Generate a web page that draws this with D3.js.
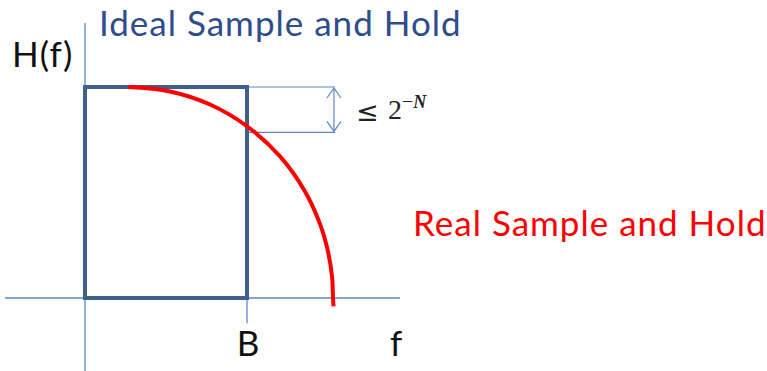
<!DOCTYPE html>
<html>
<head>
<meta charset="utf-8">
<script src="https://cdn.jsdelivr.net/npm/d3@7"></script>
<style>
  html, body { margin: 0; padding: 0; background: #fff; }
  svg { display: block; }
</style>
</head>
<body>
<svg id="chart" width="767" height="371"></svg>
<script>
// ideal brick-wall response: flat 1 up to B, then nothing
const idealF = [0, 0, 1, 1]
const idealH = [0, 1, 1, 0]

// real sample-and-hold response (f in units of B)
const realF = [0.265, 0.525, 0.772, 1.0, 1.204, 1.358, 1.451, 1.5, 1.525, 1.531, 1.534]
const realH = [1.0, 0.979, 0.917, 0.814, 0.671, 0.505, 0.35, 0.22, 0.1, 0.0, -0.04]

// droop bracket: from the top of the box down to where the curve leaves it
const droopTop = 1.0
const droopBottom = 0.785
const droopF = [1.0, 1.543]

const fExtent = [-0.494, 1.944]
const hExtent = [-0.346, 1.303]
const tickLabels = ['B', 'f']

const svg = d3.select('#chart')

const x = d3.scaleLinear().domain([0, 1]).range([85, 247])
const y = d3.scaleLinear().domain([0, 1]).range([298, 87])

const axisColor = '#5B87C5'
const boxColor = '#3F5F8C'

// axes
svg.append('line')
  .attr('x1', x(fExtent[0])).attr('x2', x(fExtent[1]))
  .attr('y1', y(0)).attr('y2', y(0))
  .attr('stroke', axisColor).attr('stroke-width', 1.3)

svg.append('line')
  .attr('x1', x(0)).attr('x2', x(0))
  .attr('y1', y(hExtent[1])).attr('y2', y(hExtent[0]))
  .attr('stroke', axisColor).attr('stroke-width', 1.3)

// tick at B
svg.append('line')
  .attr('x1', x(1)).attr('x2', x(1))
  .attr('y1', y(0)).attr('y2', y(-0.12))
  .attr('stroke', axisColor).attr('stroke-width', 1.3)

// droop bracket lines
svg.selectAll('line.droop')
  .data([droopTop, droopBottom])
  .join('line')
  .attr('class', 'droop')
  .attr('x1', x(droopF[0])).attr('x2', x(droopF[1]))
  .attr('y1', d => y(d)).attr('y2', d => y(d))
  .attr('stroke', axisColor).attr('stroke-width', 1.2)

// double arrow
const ax = x(droopF[1]) - 1
const yTop = y(droopTop) + 1
const yBot = y(droopBottom) - 1
svg.append('line')
  .attr('x1', ax).attr('x2', ax)
  .attr('y1', yTop).attr('y2', yBot)
  .attr('stroke', axisColor).attr('stroke-width', 1.2)
svg.append('path')
  .attr('d', `M${ax - 7},${yTop + 10}L${ax},${yTop}L${ax + 7},${yTop + 10}` +
             `M${ax - 7},${yBot - 10}L${ax},${yBot}L${ax + 7},${yBot - 10}`)
  .attr('fill', 'none').attr('stroke', axisColor).attr('stroke-width', 1.2)

// ideal box
const line = d3.line().x(d => x(d[0])).y(d => y(d[1]))
svg.append('path')
  .attr('d', line(d3.zip(idealF, idealH)) + 'Z')
  .attr('fill', 'none')
  .attr('stroke', boxColor)
  .attr('stroke-width', 4)
  .attr('stroke-linejoin', 'miter')

// real curve
svg.append('path')
  .attr('d', d3.line().x(d => x(d[0])).y(d => y(d[1])).curve(d3.curveCatmullRom)(d3.zip(realF, realH)))
  .attr('fill', 'none')
  .attr('stroke', '#FF0000')
  .attr('stroke-width', 4)

// labels
const font = 'Lato, "Open Sans", sans-serif'

svg.append('text')
  .attr('x', 12).attr('y', 67)
  .attr('font-family', font).attr('font-size', 35)
  .attr('letter-spacing', 1)
  .attr('fill', '#111')
  .text('H(f)')

svg.append('text')
  .attr('x', 99).attr('y', 36)
  .attr('font-family', font).attr('font-size', 35)
  .attr('letter-spacing', 1)
  .attr('fill', '#2E4D8C')
  .text('Ideal Sample and Hold')

svg.append('text')
  .attr('x', 413).attr('y', 236)
  .attr('font-family', font).attr('font-size', 35)
  .attr('letter-spacing', 1)
  .attr('fill', '#FF0000')
  .text('Real Sample and Hold')

svg.selectAll('text.tick')
  .data(tickLabels)
  .join('text')
  .attr('class', 'tick')
  .attr('x', (d, i) => i === 0 ? x(1) + 1 : x(1.92))
  .attr('y', 356)
  .attr('text-anchor', 'middle')
  .attr('font-family', font).attr('font-size', 35)
  .attr('fill', '#111')
  .text(d => d)

// ≤ 2^-N
const serif = '"Liberation Serif", "DejaVu Serif", serif'
svg.append('text')
  .attr('x', 356).attr('y', 121)
  .attr('font-family', '"DejaVu Sans", sans-serif').attr('font-size', 27)
  .attr('fill', '#222')
  .text('≤')
const lbl = svg.append('text')
  .attr('x', 388).attr('y', 119)
  .attr('font-family', serif).attr('font-size', 28)
  .attr('fill', '#222')
lbl.append('tspan').text('2')
lbl.append('tspan').attr('dy', -11).attr('font-size', 20).text('−')
lbl.append('tspan').attr('font-size', 18).attr('font-style', 'italic').attr('font-weight', 'bold').text('N')
</script>
</body>
</html>
